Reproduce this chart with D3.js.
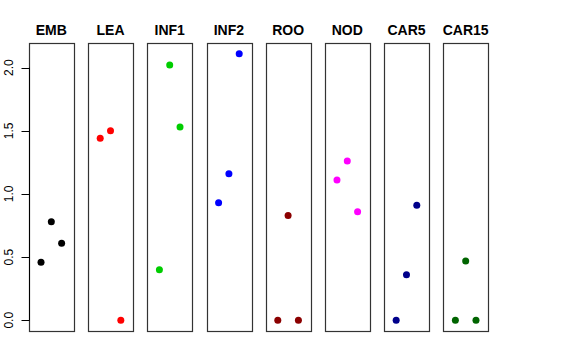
<!DOCTYPE html>
<html>
<body>
    <style>
        body, html {
            margin: 0;
            padding: 0;
            background: #fff;
        }
        svg { display: block; }
        text { font-family: "Liberation Sans", Arial, Helvetica, sans-serif; }
    </style>

    <svg width="576" height="360"></svg>

    <script src="https://d3js.org/d3.v7.min.js"></script>

    <script>
        // tissues and colours
        var tissues = ["EMB", "LEA", "INF1", "INF2", "ROO", "NOD", "CAR5", "CAR15"];
        var colors = ["#000000", "#FF0000", "#00CD00", "#0000FF", "#8B0000", "#FF00FF", "#00008B", "#006400"];

        // three replicates per tissue (left, middle, right)
        var rep1 = [0.46, 1.44, 0.40, 0.93, 0.00, 1.11, 0.00, 0.00];
        var rep2 = [0.78, 1.50, 2.02, 1.16, 0.83, 1.26, 0.36, 0.47];
        var rep3 = [0.61, 0.00, 1.53, 2.11, 0.00, 0.86, 0.91, 0.00];

        var yTicks = [0, 0.5, 1, 1.5, 2];

        var svg = d3.select("svg");

        var y = d3.scaleLinear().domain([-0.085, 2.195]).range([331, 43]);

        var panel = d3.scaleBand()
            .domain(tissues)
            .range([29, 488])
            .paddingInner(0.246);

        var inner = d3.scaleLinear()
            .domain([2 - 2.165, 2 + 2.165])
            .range([0, panel.bandwidth()]);

        var points = [];
        tissues.forEach(function (t, i) {
            [rep1[i], rep2[i], rep3[i]].forEach(function (v, j) {
                points.push({ tissue: t, pos: j + 1, value: v, color: colors[i] });
            });
        });

        // panel boxes
        svg.selectAll("rect.box")
            .data(tissues)
            .enter().append("rect")
            .attr("class", "box")
            .attr("x", function (d) { return Math.round(panel(d)) + 0.5; })
            .attr("y", Math.round(y.range()[1]) + 0.5)
            .attr("width", Math.round(panel.bandwidth()))
            .attr("height", Math.round(y.range()[0] - y.range()[1]))
            .attr("fill", "none")
            .attr("stroke", "#333")
            .attr("stroke-width", 1.2);

        // titles
        svg.selectAll("text.title")
            .data(tissues)
            .enter().append("text")
            .attr("class", "title")
            .attr("x", function (d) { return panel(d) + panel.bandwidth() / 2; })
            .attr("y", 35)
            .attr("text-anchor", "middle")
            .attr("font-size", "14px")
            .attr("font-weight", "bold")
            .text(function (d) { return d; });

        // y axis on the first panel
        var axisX = Math.round(panel(tissues[0])) + 0.5;
        var axis = svg.append("g");
        axis.append("line")
            .attr("x1", axisX).attr("x2", axisX)
            .attr("y1", y(0)).attr("y2", y(2))
            .attr("stroke", "#000");
        axis.selectAll("line.tick")
            .data(yTicks)
            .enter().append("line")
            .attr("class", "tick")
            .attr("x1", axisX - 8).attr("x2", axisX)
            .attr("y1", function (d) { return Math.round(y(d)) + 0.5; })
            .attr("y2", function (d) { return Math.round(y(d)) + 0.5; })
            .attr("stroke", "#000");
        axis.selectAll("text")
            .data(yTicks)
            .enter().append("text")
            .attr("transform", function (d) { return "translate(13," + y(d) + ") rotate(-90)"; })
            .attr("text-anchor", "middle")
            .attr("font-size", "12px")
            .text(function (d) { return d3.format(".1f")(d); });

        // points
        svg.selectAll("circle")
            .data(points)
            .enter().append("circle")
            .attr("cx", function (d) { return panel(d.tissue) + inner(d.pos); })
            .attr("cy", function (d) { return y(d.value); })
            .attr("r", 3.5)
            .attr("fill", function (d) { return d.color; });
    </script>
</body>
</html>
